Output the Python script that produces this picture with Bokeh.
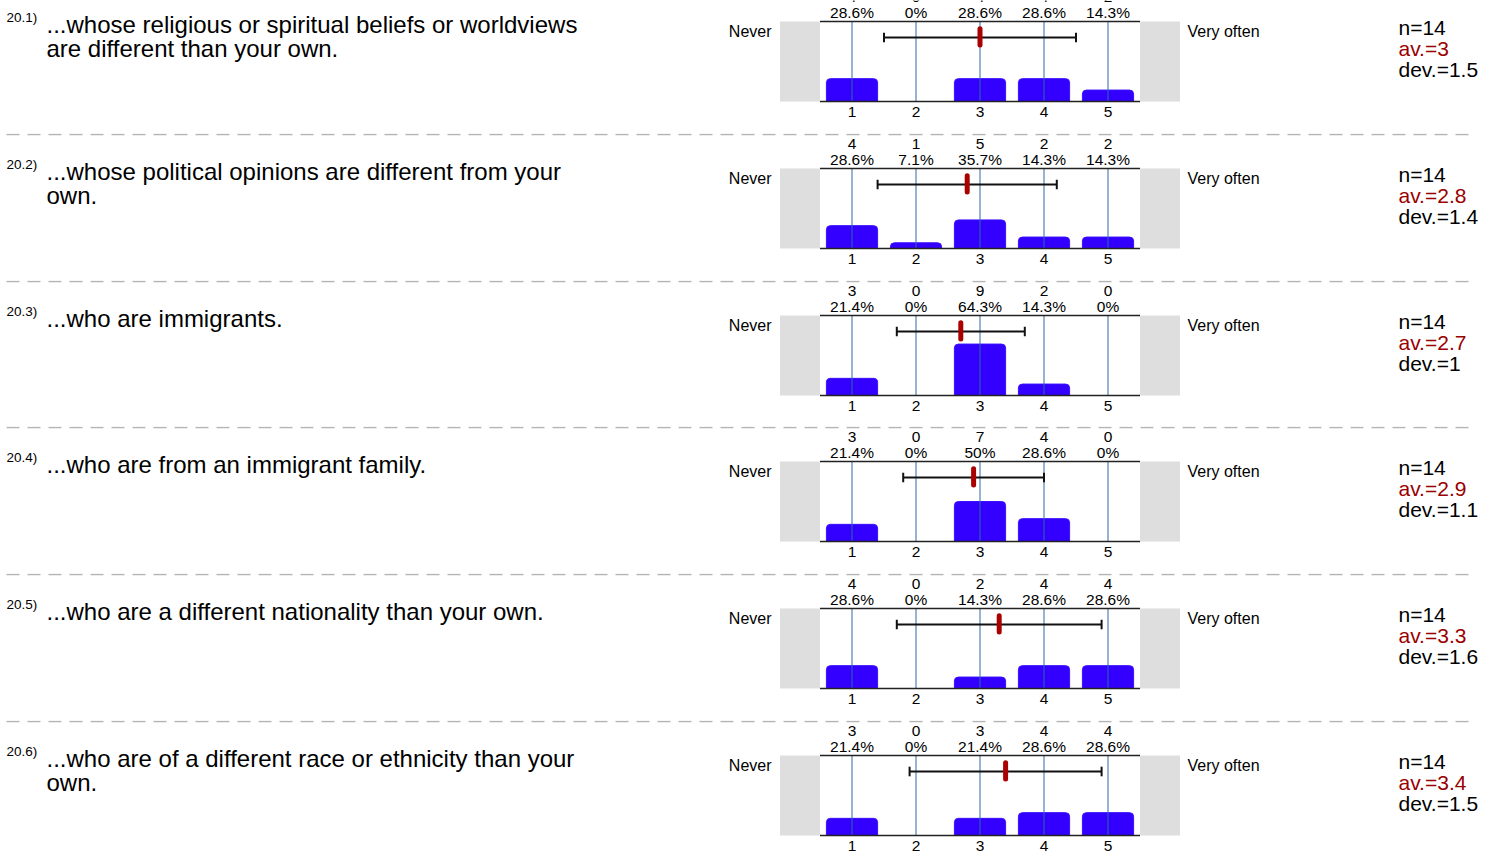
from bokeh.plotting import figure
from bokeh.models import Range1d, ColumnDataSource
from bokeh.layouts import column
from bokeh.embed import file_html
from bokeh.resources import INLINE
from bokeh.core.properties import value

# ---------------- data ----------------
item_ids = ["20.1)", "20.2)", "20.3)", "20.4)", "20.5)", "20.6)"]
questions = [
    "...whose religious or spiritual beliefs or worldviews\nare different than your own.",
    "...whose political opinions are different from your\nown.",
    "...who are immigrants.",
    "...who are from an immigrant family.",
    "...who are a different nationality than your own.",
    "...who are of a different race or ethnicity than your\nown.",
]
categories = [1, 2, 3, 4, 5]
counts_1 = [4, 0, 4, 4, 2]
counts_2 = [4, 1, 5, 2, 2]
counts_3 = [3, 0, 9, 2, 0]
counts_4 = [3, 0, 7, 4, 0]
counts_5 = [4, 0, 2, 4, 4]
counts_6 = [3, 0, 3, 4, 4]
all_counts = [counts_1, counts_2, counts_3, counts_4, counts_5, counts_6]
n_resp = [14, 14, 14, 14, 14, 14]
averages = [3, 2.8, 2.7, 2.9, 3.3, 3.4]
deviations = [1.5, 1.4, 1, 1.1, 1.6, 1.5]
left_label = "Never"
right_label = "Very often"

# ---------------- layout constants ----------------
FONT = value("Liberation Sans")
W = 1496
X0, X1 = 0, 1496              # page-pixel span of each row's frame
CAT1_X, CAT_STEP = 851.5, 64  # where category 1 sits, pixels per category
FRAME_TOP, FRAME_BOT = 35, 115
PX_PER_PCT = 0.8
tops = [14, 0, 0, 0, 0, 0]
bots = [147, 147, 146, 147, 147, 133]


def fmt_num(v):
    s = f"{v:.1f}"
    return s[:-2] if s.endswith(".0") else s


figs = []
for i in range(6):
    top, bot = tops[i], bots[i]
    cnts = all_counts[i]
    n = n_resp[i]
    pct = [100.0 * c / n for c in cnts]
    p = figure(width=W, height=bot - top, output_backend="svg", toolbar_location=None,
               x_range=Range1d(X0, X1),
               y_range=Range1d((FRAME_BOT - bot) / PX_PER_PCT, (FRAME_BOT - top) / PX_PER_PCT),
               x_axis_type=None, y_axis_type=None,
               min_border_left=0, min_border_right=0, min_border_top=0, min_border_bottom=0,
               outline_line_color=None, background_fill_color="white",
               border_fill_color="white")
    p.extra_x_ranges = {"cat": Range1d(1 + (X0 - CAT1_X) / CAT_STEP,
                                       1 + (X1 - CAT1_X) / CAT_STEP)}
    p.extra_y_ranges = {"loc": Range1d(bot, top)}

    # separator
    if i > 0:
        p.segment(x0=[6], y0=[1], x1=[1470], y1=[1], y_range_name="loc",
                  line_color="#b4b4b4", line_width=1.5, line_dash="13 8")

    # gray end boxes
    p.quad(left=[-0.125, 5.5], right=[0.5, 6.125], bottom=[0, 0], top=[100, 100],
           x_range_name="cat", fill_color="#dedede", line_color=None)

    src = ColumnDataSource(dict(x=categories, top=pct,
                                cnt=[str(c) for c in cnts],
                                lab=[fmt_num(v) + "%" for v in pct]))
    p.vbar(x="x", top="top", bottom=0, width=0.8, source=src, x_range_name="cat",
           fill_color="#3300ff", line_color="#3a10ff", line_width=1,
           border_radius=(4, 4, 0, 0))
    # vertical grid lines over bars
    p.segment(x0=categories, y0=[0] * 5, x1=categories, y1=[100] * 5,
              x_range_name="cat", line_color="#2f6aa3", line_width=1)
    # top and bottom lines of the scale
    p.segment(x0=[0.5, 0.5], y0=[100, 0], x1=[5.5, 5.5], y1=[100, 0], x_range_name="cat",
              line_color="#222222", line_width=1.5)

    # std-dev bar
    av, dv = averages[i], deviations[i]
    lo, hi = av - dv, av + dv
    p.segment(x0=[lo], y0=[80], x1=[hi], y1=[80], x_range_name="cat",
              line_color="#111111", line_width=2)
    p.segment(x0=[lo, hi], y0=[74, 74], x1=[lo, hi], y1=[86, 86], x_range_name="cat",
              line_color="#111111", line_width=2)
    # mean marker
    p.segment(x0=[av], y0=[70.5], x1=[av], y1=[91], x_range_name="cat",
              line_color="#aa0000", line_width=5, line_cap="round")

    # counts, percentages, category labels
    p.text(x="x", y=10, text="cnt", source=src, x_range_name="cat", y_range_name="loc",
           text_align="center", text_baseline="middle", text_font=FONT,
           text_font_size="15.5px", text_color="black")
    p.text(x="x", y=26, text="lab", source=src, x_range_name="cat", y_range_name="loc",
           text_align="center", text_baseline="middle", text_font=FONT,
           text_font_size="15.5px", text_color="black")
    p.text(x=categories, y=[125] * 5, text=[str(c) for c in categories],
           x_range_name="cat", y_range_name="loc",
           text_align="center", text_baseline="middle", text_font=FONT,
           text_font_size="15.5px", text_color="black")

    # scale end labels
    p.text(x=[771], y=[45], text=[left_label], y_range_name="loc", text_align="right",
           text_baseline="middle", text_font=FONT, text_font_size="16px", text_color="black")
    p.text(x=[1187], y=[45], text=[right_label], y_range_name="loc", text_align="left",
           text_baseline="middle", text_font=FONT, text_font_size="16px", text_color="black")

    # stats
    p.text(x=[1398] * 3, y=[40.5, 61.5, 83],
           text=[f"n={n}", f"av.={fmt_num(av)}", f"dev.={fmt_num(dv)}"],
           y_range_name="loc", text_align="left", text_baseline="middle",
           text_font=FONT, text_font_size="21px",
           text_color=["black", "#9a0000", "black"])

    # question id and text
    p.text(x=[6], y=[31], text=[item_ids[i]], y_range_name="loc", text_align="left",
           text_baseline="middle", text_font=FONT, text_font_size="13.5px", text_color="black")
    lines = questions[i].split("\n")
    p.text(x=[46] * len(lines), y=[37.5 + 24 * j for j in range(len(lines))], text=lines,
           y_range_name="loc", text_align="left", text_baseline="middle",
           text_font=FONT, text_font_size="24px", text_color="black")

    figs.append(p)

layout = column(*figs, spacing=0)
open("out.html", "w").write(file_html(layout, INLINE))
